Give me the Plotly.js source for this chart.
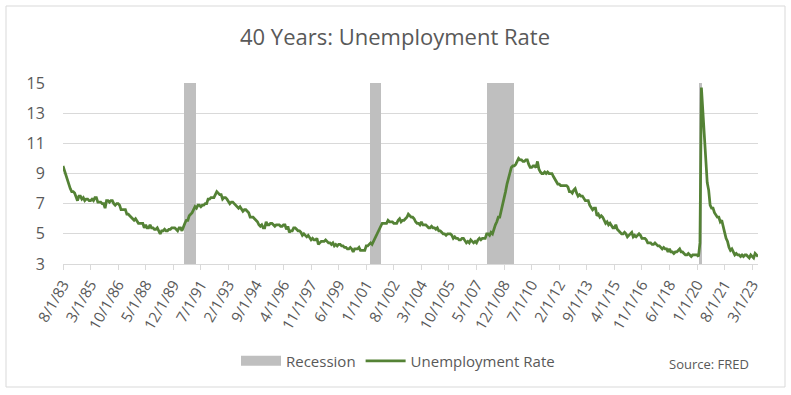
<!DOCTYPE html>
<html>
<head>
<meta charset="utf-8">
<script src="https://cdn.plot.ly/plotly-3.0.1.min.js"></script>
<style>
  html, body { margin: 0; padding: 0; background: #fff; }
  #chart { width: 791px; height: 395px; }
</style>
</head>
<body>
<div id="chart"></div>
<script>
// Monthly US unemployment rate (%), Aug 1983 .. Jul 2023
const startYear = 1983;
const startMonth = 8;
const unrate = [
  9.5, 9.2, 8.8, 8.5, 8.3,                                   // 1983 Aug-Dec
  8.0, 7.8, 7.8, 7.7, 7.4, 7.2, 7.5, 7.5, 7.3, 7.4, 7.2, 7.3, // 1984
  7.3, 7.2, 7.2, 7.3, 7.2, 7.4, 7.4, 7.1, 7.1, 7.1, 7.0, 7.0, // 1985
  6.7, 7.2, 7.2, 7.1, 7.2, 7.2, 7.0, 6.9, 7.0, 7.0, 6.9, 6.6, // 1986
  6.6, 6.6, 6.6, 6.3, 6.3, 6.2, 6.1, 6.0, 5.9, 6.0, 5.8, 5.7, // 1987
  5.7, 5.7, 5.7, 5.4, 5.6, 5.4, 5.4, 5.6, 5.4, 5.4, 5.3, 5.3, // 1988
  5.4, 5.2, 5.0, 5.2, 5.2, 5.3, 5.2, 5.2, 5.3, 5.3, 5.4, 5.4, // 1989
  5.4, 5.3, 5.2, 5.4, 5.4, 5.2, 5.5, 5.7, 5.9, 5.9, 6.2, 6.3, // 1990
  6.4, 6.6, 6.8, 6.7, 6.9, 6.9, 6.8, 6.9, 6.9, 7.0, 7.0, 7.3, // 1991
  7.3, 7.4, 7.4, 7.4, 7.6, 7.8, 7.7, 7.6, 7.6, 7.3, 7.4, 7.4, // 1992
  7.3, 7.1, 7.0, 7.1, 7.1, 7.0, 6.9, 6.8, 6.7, 6.8, 6.6, 6.5, // 1993
  6.6, 6.6, 6.5, 6.4, 6.1, 6.1, 6.1, 6.0, 5.9, 5.8, 5.6, 5.5, // 1994
  5.6, 5.4, 5.4, 5.8, 5.6, 5.6, 5.7, 5.7, 5.6, 5.5, 5.6, 5.6, // 1995
  5.6, 5.5, 5.5, 5.6, 5.6, 5.3, 5.5, 5.1, 5.2, 5.2, 5.4, 5.4, // 1996
  5.3, 5.2, 5.2, 5.1, 4.9, 5.0, 4.9, 4.8, 4.9, 4.7, 4.6, 4.7, // 1997
  4.6, 4.6, 4.7, 4.3, 4.4, 4.5, 4.5, 4.5, 4.6, 4.5, 4.4, 4.4, // 1998
  4.3, 4.4, 4.2, 4.3, 4.2, 4.3, 4.3, 4.2, 4.2, 4.1, 4.1, 4.0, // 1999
  4.0, 4.1, 4.0, 3.8, 4.0, 4.0, 4.0, 4.1, 3.9, 3.9, 3.9, 3.9, // 2000
  4.2, 4.2, 4.3, 4.4, 4.3, 4.5, 4.6, 4.9, 5.0, 5.3, 5.5, 5.7, // 2001
  5.7, 5.7, 5.7, 5.9, 5.8, 5.8, 5.8, 5.7, 5.7, 5.7, 5.9, 6.0, // 2002
  5.8, 5.9, 5.9, 6.0, 6.1, 6.3, 6.2, 6.1, 6.1, 6.0, 5.8, 5.7, // 2003
  5.7, 5.6, 5.8, 5.6, 5.6, 5.6, 5.5, 5.4, 5.4, 5.5, 5.4, 5.4, // 2004
  5.3, 5.4, 5.2, 5.2, 5.1, 5.0, 5.0, 4.9, 5.0, 5.0, 5.0, 4.9, // 2005
  4.7, 4.8, 4.7, 4.7, 4.6, 4.6, 4.7, 4.7, 4.5, 4.4, 4.5, 4.4, // 2006
  4.6, 4.5, 4.4, 4.5, 4.4, 4.6, 4.7, 4.6, 4.7, 4.7, 4.7, 5.0, // 2007
  5.0, 4.9, 5.1, 5.0, 5.4, 5.6, 5.8, 6.1, 6.1, 6.5, 6.8, 7.3, // 2008
  7.8, 8.3, 8.7, 9.0, 9.4, 9.5, 9.5, 9.6, 9.8, 10.0, 9.9, 9.9, // 2009
  9.8, 9.8, 9.9, 9.9, 9.6, 9.4, 9.4, 9.5, 9.5, 9.4, 9.8, 9.3, // 2010
  9.1, 9.0, 9.0, 9.1, 9.0, 9.1, 9.0, 9.0, 9.0, 8.8, 8.6, 8.5, // 2011
  8.3, 8.3, 8.2, 8.2, 8.2, 8.2, 8.2, 8.1, 7.8, 7.8, 7.7, 7.9, // 2012
  8.0, 7.7, 7.5, 7.6, 7.5, 7.5, 7.3, 7.2, 7.2, 7.2, 6.9, 6.7, // 2013
  6.6, 6.7, 6.7, 6.2, 6.3, 6.1, 6.2, 6.1, 5.9, 5.7, 5.8, 5.6, // 2014
  5.7, 5.5, 5.4, 5.4, 5.6, 5.3, 5.2, 5.1, 5.0, 5.0, 5.1, 5.0, // 2015
  4.8, 4.9, 5.0, 5.1, 4.8, 4.9, 4.8, 4.9, 5.0, 4.9, 4.7, 4.7, // 2016
  4.7, 4.6, 4.4, 4.4, 4.4, 4.3, 4.3, 4.4, 4.3, 4.2, 4.2, 4.1, // 2017
  4.0, 4.1, 4.0, 4.0, 3.8, 4.0, 3.8, 3.8, 3.7, 3.8, 3.8, 3.9, // 2018
  4.0, 3.8, 3.8, 3.7, 3.6, 3.6, 3.7, 3.6, 3.5, 3.6, 3.6, 3.6, // 2019
  3.6, 3.5, 4.4, 14.7, 13.2, 11.0, 10.2, 8.4, 7.9, 6.9, 6.7, 6.7, // 2020
  6.4, 6.2, 6.1, 6.1, 5.8, 5.9, 5.4, 5.1, 4.7, 4.5, 4.1, 3.9, // 2021
  4.0, 3.8, 3.6, 3.7, 3.6, 3.6, 3.5, 3.6, 3.5, 3.6, 3.6, 3.5, // 2022
  3.4, 3.6, 3.5, 3.4, 3.7, 3.6, 3.5                          // 2023 Jan-Jul
];

// NBER recession periods (first and last month, as category labels)
const recessionStart = ['8/1/90', '4/1/01', '1/1/08', '3/1/20'];
const recessionEnd   = ['3/1/91', '11/1/01', '6/1/09', '4/1/20'];
const recessionHeight = 15;

const yTicks = [3, 5, 7, 9, 11, 13, 15];
const tickEvery = 19; // a label every 19 months

// Category labels M/1/YY
const categories = unrate.map((_, i) => {
  const k = startMonth - 1 + i;
  const m = (k % 12) + 1;
  const y = startYear + Math.floor(k / 12);
  return m + '/1/' + String(y % 100).padStart(2, '0');
});

const recession = categories.map(() => null);
recessionStart.forEach((s, j) => {
  const a = categories.indexOf(s), b = categories.indexOf(recessionEnd[j]);
  for (let i = a; i <= b; i++) recession[i] = recessionHeight;
});

const xTickVals = categories.filter((_, i) => i % tickEvery === 0);

const grey = '#595959';
const font = '"Open Sans", "Noto Sans", sans-serif';

const traces = [
  {
    type: 'bar', x: categories, y: recession, name: 'Recession',
    marker: { color: '#BFBFBF', line: { width: 0 } },
    width: 1, showlegend: false, hoverinfo: 'skip'
  },
  {
    type: 'scatter', mode: 'lines', x: [null], y: [null], name: 'Recession',
    line: { color: '#BFBFBF', width: 10 }, showlegend: true, hoverinfo: 'skip'
  },
  {
    type: 'scatter', mode: 'lines', x: categories, y: unrate, name: 'Unemployment Rate',
    line: { color: '#548235', width: 2.75 }
  }
];

const L = 63, R = 758, T = 83, B = 264;
const W = 791, H = 395;
const pw = R - L, ph = B - T;
const px = v => (v - L) / pw;
const py = v => (B - v) / ph;

const layout = {
  width: W, height: H,
  margin: { l: L, r: W - R, t: T, b: H - B, pad: 0 },
  paper_bgcolor: '#fff', plot_bgcolor: '#fff',
  font: { family: font, color: grey, size: 14 },
  title: {
    text: '40 Years: Unemployment Rate',
    font: { family: font, size: 22, color: grey },
    x: 395 / W, xref: 'container', xanchor: 'center',
    y: 1 - 37 / H, yref: 'container', yanchor: 'middle'
  },
  bargap: 0,
  showlegend: true,
  legend: {
    orientation: 'h', x: px(398), xanchor: 'center', y: py(361), yanchor: 'middle',
    font: { family: font, size: 15, color: grey }, itemwidth: 40,
    traceorder: 'normal', bgcolor: 'rgba(0,0,0,0)'
  },
  xaxis: {
    type: 'category', range: [0, categories.length - 1],
    tickmode: 'array', tickvals: xTickVals, ticktext: xTickVals,
    tickangle: -60, ticks: 'outside', ticklen: 5, tickcolor: '#D9D9D9', tickwidth: 1,
    showline: true, linecolor: '#D9D9D9', linewidth: 1,
    showgrid: false, zeroline: false,
    tickfont: { family: font, size: 15, color: grey }
  },
  yaxis: {
    range: [3, 15], tickmode: 'array', tickvals: yTicks,
    ticks: 'outside', ticklen: 14, tickcolor: 'rgba(0,0,0,0)',
    showgrid: true, gridcolor: '#D9D9D9', gridwidth: 1,
    showline: false, zeroline: false,
    tickfont: { family: font, size: 16, color: grey }
  },
  annotations: [{
    text: 'Source: FRED', xref: 'paper', yref: 'paper',
    x: px(751), xanchor: 'right', y: py(364), yanchor: 'middle',
    showarrow: false, font: { family: font, size: 13, color: grey }
  }],
  shapes: [{
    type: 'rect', xref: 'paper', yref: 'paper',
    x0: px(6), x1: px(785), y0: py(387), y1: py(6),
    line: { color: '#D9D9D9', width: 1 }, fillcolor: 'rgba(0,0,0,0)', layer: 'below'
  }]
};

Plotly.newPlot('chart', traces, layout, { staticPlot: true, displayModeBar: false });
</script>
</body>
</html>
